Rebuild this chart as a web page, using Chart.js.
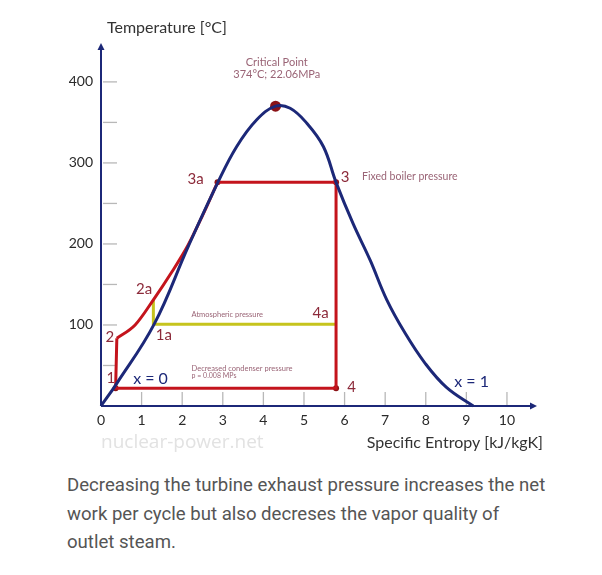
<!DOCTYPE html>
<html>
<head>
<meta charset="utf-8">
<script src="https://cdn.jsdelivr.net/npm/chart.js@4"></script>
<style>
  body { margin: 0; background: #fff; width: 602px; height: 575px; position: relative; overflow: hidden; }
  #wrap { position: absolute; left: 0; top: 0; width: 602px; height: 460px; }
  #caption { position: absolute; left: 67px; top: 471px; width: 530px; font-family: Roboto, sans-serif; font-size: 18.6px; line-height: 28.5px; color: #555; white-space: nowrap; }
</style>
</head>
<body>
<div id="wrap"><canvas id="tsChart" width="602" height="460"></canvas></div>
<div id="caption">Decreasing the turbine exhaust pressure increases the net<br>work per cycle but also decreses the vapor quality of<br>outlet steam.</div>
<script>
// saturation dome (x = 0 and x = 1 lines)
const domeS = [0, 0.39, 1.31, 2.15, 2.87, 3.34, 3.83, 4.30, 4.66, 5.07, 5.48, 5.79, 6.21, 6.63, 7.04, 7.49, 7.98, 8.51, 9.17];
const domeT = [0, 28, 101, 197, 275, 320, 353, 370, 367.5, 349, 320, 276, 225, 180, 131, 90, 53, 23, 0];

// Rankine cycle: 3a -> 3 -> 4 -> 1 -> 2, then heating curve 2 -> 2a -> 3a
const cycleS = [2.87, 5.79, 5.79, 0.36, 0.39];
const cycleT = [276, 276, 22, 22, 83.6];
const heatS = [0.39, 0.84, 1.29, 1.74, 2.15, 2.50, 2.87];
const heatT = [83.6, 100, 131, 165, 199, 235, 276];

// atmospheric condenser pressure: 2a -> 1a -> 4a
const atmS = [1.29, 1.29, 5.79];
const atmT = [131, 101, 101];

const criticalS = [4.30];
const criticalT = [370];
const stateS = [0.36, 5.79, 2.87, 5.79];
const stateT = [22, 22, 276, 276];

const xTicks = [0, 1, 2, 3, 4, 5, 6, 7, 8, 9, 10];
const yMinorTicks = [50, 100, 150, 200, 250, 300, 350, 400];
const yTickLabels = [100, 200, 300, 400];
const xMax = 10.74;
const yMax = 448;

const navy = '#1c2878';
const red = '#c4141c';
const dark = '#8a1216';
const olive = '#c6c41e';
const mauve = '#9a6476';
const labelRed = '#8c2a3a';

// annotations: [text, s, T, font size, colour, align]
const notes = [
    ['Critical Point', 4.33, 423.5, 11, mauve, 'center'],
    ['374°C; 22.06MPa', 4.33, 408.6, 11, mauve, 'center'],
    ['3a', 2.33, 280, 15, labelRed, 'center'],
    ['3', 6.01, 282.7, 15, labelRed, 'center'],
    ['Fixed boiler pressure', 6.43, 282.7, 10.5, mauve, 'left'],
    ['2a', 1.06, 144.4, 15, labelRed, 'center'],
    ['2', 0.22, 85.2, 15, labelRed, 'center'],
    ['1a', 1.55, 87, 15, labelRed, 'center'],
    ['1', 0.24, 34.2, 15, labelRed, 'center'],
    ['x = 0', 1.22, 33, 16, navy, 'center'],
    ['Atmospheric pressure', 2.23, 113.2, 7.5, mauve, 'left'],
    ['4a', 5.41, 114.4, 15, labelRed, 'center'],
    ['Decreased condenser pressure', 2.23, 45.7, 7.5, mauve, 'left'],
    ['p = 0.008 MPs', 2.23, 37.8, 7, mauve, 'left'],
    ['4', 6.17, 23, 15, labelRed, 'center'],
    ['x = 1', 9.13, 30, 16, navy, 'center']
];

function pts(s, t) {
    return s.map((v, i) => ({ x: v, y: t[i] }));
}

function line(ctx, x1, y1, x2, y2) {
    ctx.beginPath();
    ctx.moveTo(x1, y1);
    ctx.lineTo(x2, y2);
    ctx.stroke();
}

const axesPlugin = {
    id: 'tsAxes',
    beforeDatasetsDraw(chart) {
        const ctx = chart.ctx;
        const x = chart.scales.x, y = chart.scales.y;
        const x0 = x.getPixelForValue(0), y0 = y.getPixelForValue(0);
        const xEnd = x.getPixelForValue(xMax), yEnd = y.getPixelForValue(yMax);
        ctx.save();

        // tick marks sit inside the plot
        ctx.strokeStyle = '#b8b8b8';
        ctx.lineWidth = 1.3;
        yMinorTicks.forEach(v => {
            const py = y.getPixelForValue(v);
            line(ctx, x0 + 2, py, x0 + 16, py);
        });
        xTicks.slice(1).forEach(v => {
            const px = x.getPixelForValue(v);
            line(ctx, px, y0 - 14, px, y0 - 1);
        });

        // axes with arrow heads
        ctx.strokeStyle = navy;
        ctx.fillStyle = navy;
        ctx.lineWidth = 2;
        line(ctx, x0, y0, x0, yEnd + 5);
        line(ctx, x0, y0, xEnd - 5, y0);
        ctx.beginPath();
        ctx.moveTo(x0, yEnd);
        ctx.lineTo(x0 - 3.5, yEnd + 7);
        ctx.lineTo(x0 + 3.5, yEnd + 7);
        ctx.closePath();
        ctx.fill();
        ctx.beginPath();
        ctx.moveTo(xEnd, y0);
        ctx.lineTo(xEnd - 7, y0 - 3.5);
        ctx.lineTo(xEnd - 7, y0 + 3.5);
        ctx.closePath();
        ctx.fill();

        // tick labels
        ctx.fillStyle = '#2a2a2a';
        ctx.font = '14px Lato, sans-serif';
        ctx.textBaseline = 'middle';
        ctx.textAlign = 'right';
        yTickLabels.forEach(v => ctx.fillText(String(v), x0 - 8, y.getPixelForValue(v)));
        ctx.textAlign = 'center';
        xTicks.forEach(v => ctx.fillText(String(v), x.getPixelForValue(v), y0 + 14));

        // axis titles and watermark
        ctx.fillStyle = '#333';
        ctx.font = '16px Lato, sans-serif';
        ctx.textAlign = 'left';
        ctx.fillText('Temperature [°C]', x0 + 6, 28);
        ctx.textAlign = 'right';
        ctx.fillText('Specific Entropy [kJ/kgK]', 543, 443);
        ctx.fillStyle = '#e2e2e2';
        ctx.font = '19px "Open Sans", sans-serif';
        ctx.textAlign = 'left';
        ctx.fillText('nuclear-power.net', x0, 443);
        ctx.restore();
    },
    afterDatasetsDraw(chart) {
        const ctx = chart.ctx;
        const x = chart.scales.x, y = chart.scales.y;
        ctx.save();
        ctx.textBaseline = 'middle';
        notes.forEach(n => {
            ctx.font = n[3] + 'px Lato, sans-serif';
            ctx.fillStyle = n[4];
            ctx.textAlign = n[5];
            ctx.fillText(n[0], x.getPixelForValue(n[1]), y.getPixelForValue(n[2]));
        });
        ctx.restore();
    }
};

document.addEventListener('DOMContentLoaded', () => {
    const ctx = document.getElementById('tsChart').getContext('2d');
    new Chart(ctx, {
        type: 'scatter',
        data: {
            datasets: [
                { data: pts(domeS, domeT), showLine: true, borderColor: navy, borderWidth: 3, tension: 0.4, pointRadius: 0, clip: false },
                { data: pts(heatS, heatT), showLine: true, borderColor: red, borderWidth: 3, cubicInterpolationMode: 'monotone', pointRadius: 0, clip: false },
                { data: pts(cycleS, cycleT), showLine: true, borderColor: red, borderWidth: 3, tension: 0, pointRadius: 0, clip: false },
                { data: pts(atmS, atmT), showLine: true, borderColor: olive, borderWidth: 3, tension: 0, pointRadius: 0, clip: false },
                { data: pts(stateS, stateT), showLine: false, pointRadius: 3, pointBackgroundColor: dark, pointBorderWidth: 0, clip: false },
                { data: pts(criticalS, criticalT), showLine: false, pointRadius: 5.5, pointBackgroundColor: dark, pointBorderWidth: 0, clip: false }
            ]
        },
        options: {
            responsive: false,
            animation: false,
            layout: { padding: { left: 101, right: 65, top: 43, bottom: 54 } },
            plugins: { legend: { display: false }, tooltip: { enabled: false } },
            scales: {
                x: { type: 'linear', min: 0, max: xMax, display: false },
                y: { type: 'linear', min: 0, max: yMax, display: false }
            }
        },
        plugins: [axesPlugin]
    });
});
</script>
</body>
</html>
